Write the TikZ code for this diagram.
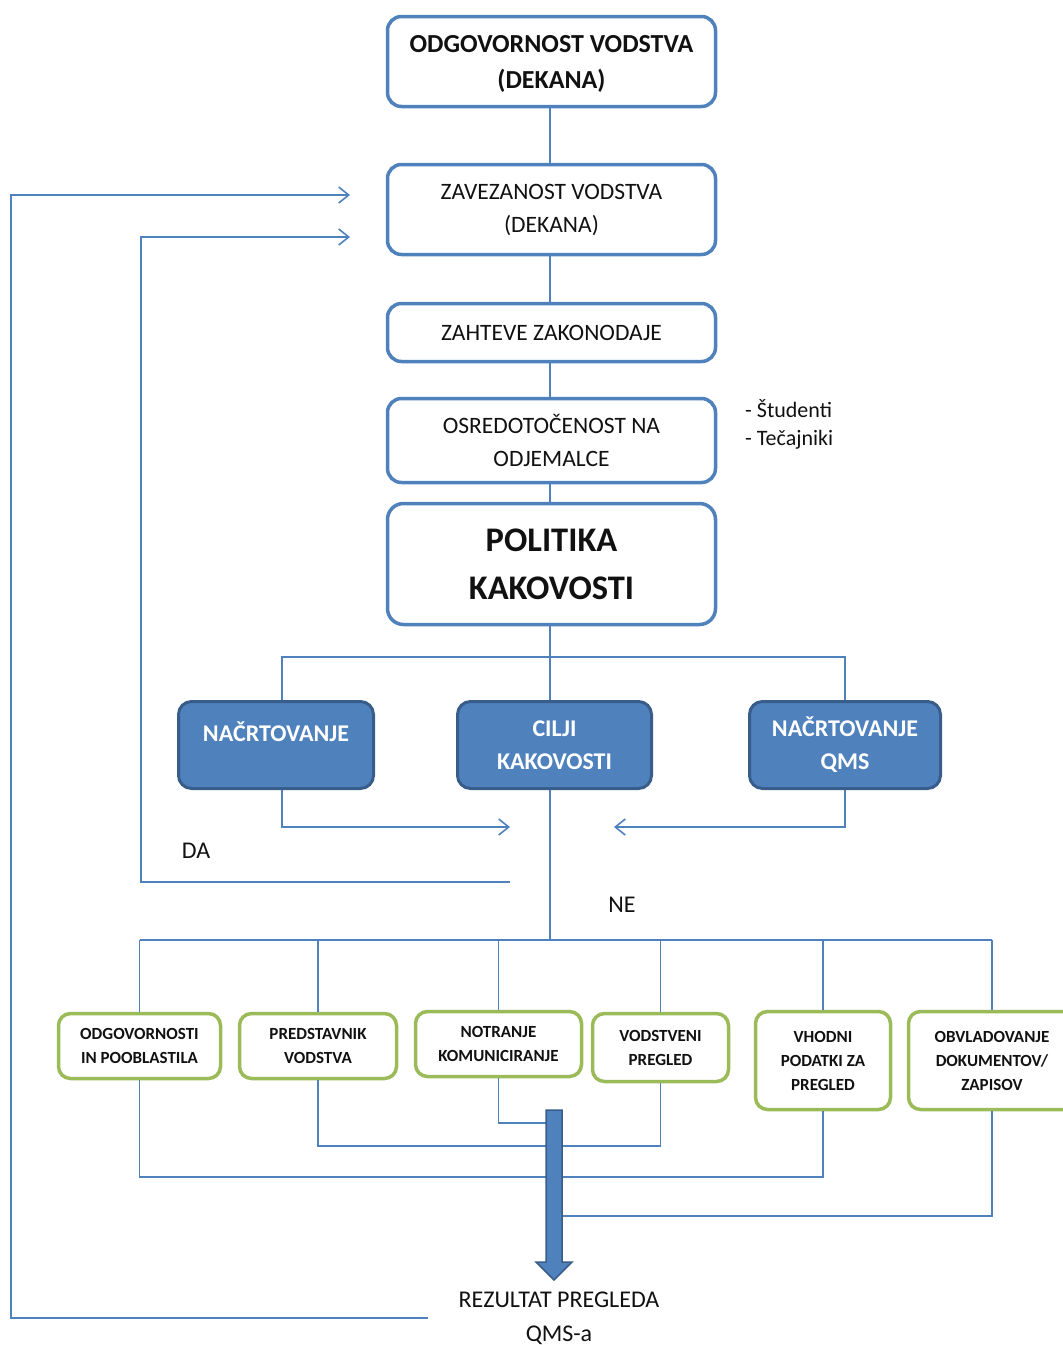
\documentclass[tikz,border=0pt]{standalone}
\usepackage{fontspec}
\setmainfont{Carlito}
\usetikzlibrary{arrows.meta}
\definecolor{lblue}{HTML}{4F81BD}
\definecolor{dblue}{HTML}{385D8A}
\definecolor{lgreen}{HTML}{9BBB59}
\definecolor{txt}{HTML}{111111}
\begin{document}
\begin{tikzpicture}[x=1pt,y=-1pt,
  bbox/.style={draw=lblue, line width=3.5pt, rounded corners=14pt, fill=white, inner sep=0pt, align=center, text=txt},
  fbox/.style={draw=dblue, line width=3pt, rounded corners=13pt, fill=lblue, inner sep=0pt, align=center, text=white,
               font=\bfseries\fontsize{24}{33}\selectfont},
  gbox/.style={draw=lgreen, line width=3.5pt, rounded corners=12pt, fill=white, inner sep=0pt, align=center, text=txt,
               font=\bfseries\fontsize{17}{24}\selectfont},
  conn/.style={draw=lblue, line width=1.6pt},
  tip/.style={-{Straight Barb[length=10pt,width=16pt,line width=1.6pt]}},
  lab/.style={text=txt, inner sep=0pt}]
\useasboundingbox (0,0) rectangle (1063,1345);

% main column
\node[bbox, minimum width=328pt, minimum height=90pt] (b1) at (551.5,61.5) {};
\node[lab, align=center, font=\bfseries\fontsize{26}{36}\selectfont] (b1txt) at (551.5,64) {ODGOVORNOST VODSTVA\\(DEKANA)};
\node[bbox, minimum width=328pt, minimum height=90pt, font=\fontsize{23.5}{33}\selectfont] (b2) at (551.5,209.5) {ZAVEZANOST VODSTVA\\(DEKANA)};
\node[bbox, minimum width=328pt, minimum height=58pt, font=\fontsize{23.5}{33}\selectfont] (b3) at (551.5,332.5) {ZAHTEVE ZAKONODAJE};
\node[bbox, minimum width=328pt, minimum height=84pt, font=\fontsize{23.5}{33}\selectfont] (b4) at (551.5,440.5) {OSREDOTOČENOST NA\\ODJEMALCE};
\node[bbox, minimum width=328pt, minimum height=121pt, rounded corners=16pt, font=\bfseries\fontsize{34.5}{48}\selectfont] (b5) at (551.5,564) {POLITIKA\\KAKOVOSTI};

\node[lab, anchor=west, font=\fontsize{22}{24}\selectfont] (stud) at (745,409) {- Študenti};
\node[lab, anchor=west, font=\fontsize{22}{24}\selectfont] (tec) at (745,440) {- Tečajniki};

% blue boxes
\node[fbox, minimum width=195pt, minimum height=87pt] (plan) at (276,745) {};
\node[lab, text=white, font=\bfseries\fontsize{24}{33}\selectfont] (plantxt) at (276,732) {NAČRTOVANJE};
\node[fbox, minimum width=194pt, minimum height=87pt] (cilj) at (554.5,745) {CILJI\\KAKOVOSTI};
\node[fbox, minimum width=191pt, minimum height=87pt] (qms) at (845,745) {NAČRTOVANJE\\QMS};

% green boxes
\node[gbox, minimum width=162pt, minimum height=65pt] (g1) at (139.5,1046) {ODGOVORNOSTI\\IN POOBLASTILA};
\node[gbox, minimum width=157pt, minimum height=65pt] (g2) at (318,1046) {PREDSTAVNIK\\VODSTVA};
\node[gbox, minimum width=166pt, minimum height=65pt] (g3) at (498.5,1044) {NOTRANJE\\KOMUNICIRANJE};
\node[gbox, minimum width=136pt, minimum height=68pt] (g4) at (660.5,1047.5) {VODSTVENI\\PREGLED};
\node[gbox, minimum width=135pt, minimum height=98pt] (g5) at (823,1060.5) {VHODNI\\PODATKI ZA\\PREGLED};
\node[gbox, minimum width=167pt, minimum height=98pt] (g6) at (992,1060.5) {OBVLADOVANJE\\DOKUMENTOV/\\ZAPISOV};

% labels
\node[lab, font=\fontsize{24}{24}\selectfont] (da) at (196,851) {DA};
\node[lab, font=\fontsize{24}{24}\selectfont] (ne) at (622,905) {NE};
\node[lab, align=center, font=\fontsize{24}{34}\selectfont] (rez) at (559,1318) {REZULTAT PREGLEDA\\QMS-a};

% coordinates
\coordinate (bus) at (550,940);
\coordinate (top) at (550,657);
\coordinate (pin) at (510,827);
\coordinate (qin) at (614,827);
\coordinate (daend) at (510,882);
\coordinate (in1) at (350,195);
\coordinate (in2) at (350,237);
\coordinate (rezend) at (428,1318);
\coordinate (arrtop) at (554,1110);

% vertical chain
\draw[conn] (b1.south -| bus) -- (b2.north -| bus);
\draw[conn] (b2.south -| bus) -- (b3.north -| bus);
\draw[conn] (b3.south -| bus) -- (b4.north -| bus);
\draw[conn] (b4.south -| bus) -- (b5.north -| bus);
\draw[conn] (b5.south -| bus) -- (cilj.north -| bus);
\draw[conn] ([xshift=6pt]plan.north) -- ([xshift=6pt]plan.north |- top) -- (top) -- (qms.north |- top) -- (qms.north);
\draw[conn] (cilj.south -| bus) -- (bus);

% arrows from planning boxes
\draw[conn, tip] ([xshift=6pt]plan.south) |- (pin);
\draw[conn, tip] (qms.south) |- (qin);

% DA loop
\draw[conn, tip] (daend) -| (141,237) -- (in2);
% outer loop
\draw[conn, tip] (rezend) -| (11,195) -- (in1);

% bus to green boxes
\draw[conn] (g1.north |- bus) -- (g6.north |- bus);
\draw[conn] (g1.north |- bus) -- (g1.north);
\draw[conn] (g2.north |- bus) -- (g2.north);
\draw[conn] (g3.north |- bus) -- (g3.north);
\draw[conn] (g4.north |- bus) -- (g4.north);
\draw[conn] (g5.north |- bus) -- (g5.north);
\draw[conn] (g6.north |- bus) -- (g6.north);

% green boxes to result
\draw[conn] (g3.south) |- (arrtop |- 0,1123);
\draw[conn] (g2.south) |- (g4.south |- 0,1146) -- (g4.south);
\draw[conn] (g1.south) |- (g5.south |- 0,1177) -- (g5.south);
\draw[conn] (g6.south) |- (arrtop |- 0,1216);

% big arrow
\draw[fill=lblue, draw=dblue, line width=1.5pt, line join=miter]
  (546,1110) -- (562,1110) -- (562,1262) -- (572,1262) -- (554,1280) -- (536,1262) -- (546,1262) -- cycle;
\end{tikzpicture}
\end{document}
